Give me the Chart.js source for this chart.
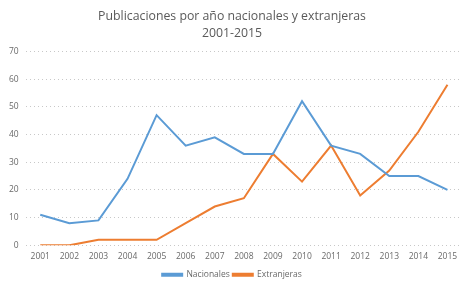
<!DOCTYPE html>
<html>
<head>
<meta charset="utf-8">
<script src="https://cdn.jsdelivr.net/npm/chart.js@4"></script>
<style>
  html, body { margin: 0; padding: 0; background: #fff; }
  #wrap { width: 472px; height: 289px; }
</style>
</head>
<body>
<div id="wrap"><canvas id="grafico"></canvas></div>
<script>
// Datos
const anios = ["2001", "2002", "2003", "2004", "2005", "2006", "2007", "2008",
  "2009", "2010", "2011", "2012", "2013", "2014", "2015"];
const nacionales = [11, 8, 9, 24, 47, 36, 39, 33, 33, 52, 36, 33, 25, 25, 20];
const extranjeras = [0, 0, 2, 2, 2, 8, 14, 17, 33, 23, 36, 18, 27, 41, 58];
const titulo = ["Publicaciones por año nacionales y extranjeras", "2001-2015"];

const gris = "#595959";
const fuente = "'Open Sans', 'Liberation Sans', sans-serif";

const ctx = document.getElementById("grafico").getContext("2d");

new Chart(ctx, {
  type: "line",
  data: {
    labels: anios,
    datasets: [
      {
        label: "Nacionales",
        data: nacionales,
        borderColor: "#5B9BD5",
        backgroundColor: "#5B9BD5",
        borderWidth: 2,
        pointRadius: 0,
        tension: 0,
      },
      {
        label: "Extranjeras",
        data: extranjeras,
        borderColor: "#ED7D31",
        backgroundColor: "#ED7D31",
        borderWidth: 2,
        pointRadius: 0,
        tension: 0,
      },
    ],
  },
  options: {
    responsive: true,
    maintainAspectRatio: false,
    animation: false,
    layout: { padding: { left: 2, right: 10, top: 6, bottom: 0 } },
    scales: {
      x: {
        offset: true,
        grid: { display: false, drawTicks: false },
        border: { display: false },
        ticks: { color: "#6a6a6a", font: { family: fuente, size: 8.5 }, padding: 6, maxRotation: 0 },
      },
      y: {
        min: 0,
        max: 70,
        grid: { color: "#c8c8c8", drawTicks: false },
        border: { display: false, dash: [1, 3] },
        ticks: { stepSize: 10, color: "#6a6a6a", font: { family: fuente, size: 8.5 }, padding: 7 },
      },
    },
    plugins: {
      title: {
        display: true,
        text: titulo,
        color: gris,
        font: { family: fuente, size: 12.3, weight: "normal", lineHeight: 1.4 },
        padding: { top: 2, bottom: 9 },
      },
      legend: {
        display: true,
        position: "bottom",
        labels: {
          color: "#6a6a6a",
          font: { family: fuente, size: 8.5 },
          boxWidth: 20,
          boxHeight: 2,
          padding: 3,
        },
      },
      tooltip: { enabled: false },
    },
  },
});
</script>
</body>
</html>
